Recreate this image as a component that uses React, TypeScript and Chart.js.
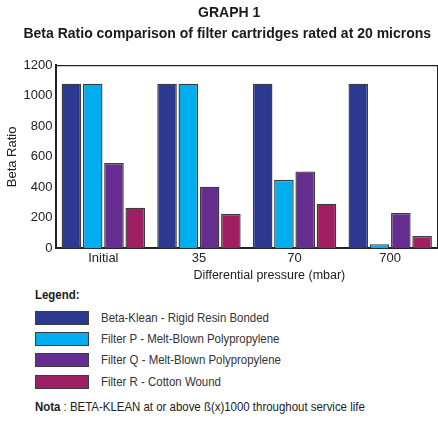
import React, { useEffect, useRef } from 'react';
import { Chart, registerables } from 'chart.js';

Chart.register(...registerables);

const titleLines = ['GRAPH 1', 'Beta Ratio comparison of filter cartridges rated at 20 microns'];
const categories = ['Initial', '35', '70', '700'];
const seriesNames = [
  'Beta-Klean - Rigid Resin Bonded',
  'Filter P - Melt-Blown Polypropylene',
  'Filter Q - Melt-Blown Polypropylene',
  'Filter R - Cotton Wound',
];
const betaKlean = [1080, 1080, 1080, 1080];
const filterP = [1080, 1080, 450, 28];
const filterQ = [560, 405, 505, 232];
const filterR = [267, 227, 293, 81];
const yTicks = [0, 200, 400, 600, 800, 1000, 1200];
const seriesColors = ['#2b3990', '#00aeef', '#662d91', '#9e1f63'];
const yTitle = 'Beta Ratio';
const xTitle = 'Differential pressure (mbar)';

const FONT = "'Liberation Sans', Arial, sans-serif";
const EDGE = '#3c3c3c';

export default function App() {
  const ref = useRef<HTMLCanvasElement | null>(null);

  useEffect(() => {
    if (!ref.current) return;
    const values = [betaKlean, filterP, filterQ, filterR];
    const chart = new Chart(ref.current, {
      type: 'bar',
      data: {
        labels: categories,
        datasets: values.map((v, i) => ({
          label: seriesNames[i],
          data: v,
          backgroundColor: seriesColors[i],
          borderColor: EDGE,
          borderWidth: 1.4,
          barPercentage: 0.92,
          categoryPercentage: 0.89,
        })),
      },
      options: {
        animation: false,
        responsive: true,
        maintainAspectRatio: false,
        layout: { padding: { left: 1, right: 0, top: 0, bottom: 0 } },
        plugins: {
          legend: { display: false },
          tooltip: { enabled: false },
          title: {
            display: true,
            text: ['     ' + titleLines[0], '    ' + titleLines[1]],
            color: '#1a1a1a',
            font: { family: FONT, size: 14, weight: 'bold', lineHeight: 1.55 },
            padding: { top: 2, bottom: 20 },
          },
        },
        scales: {
          x: {
            grid: { display: false, drawTicks: false },
            border: { display: true, color: '#222', width: 2 },
            ticks: { color: '#222', font: { family: FONT, size: 13 }, padding: 2 },
            title: {
              display: true,
              text: '             ' + xTitle,
              color: '#222',
              font: { family: FONT, size: 12.5 },
              padding: { top: 0, bottom: 2 },
            },
          },
          xTop: {
            type: 'category',
            position: 'top',
            grid: { display: false, drawTicks: false },
            border: { display: true, color: '#222', width: 1.3 },
            ticks: { display: false },
          },
          y: {
            min: yTicks[0],
            max: yTicks[yTicks.length - 1],
            grid: { display: false, drawTicks: false },
            border: { display: true, color: '#222', width: 2 },
            ticks: {
              stepSize: yTicks[1] - yTicks[0],
              color: '#222',
              font: { family: FONT, size: 13 },
              padding: 3,
              callback: (v: any) => String(v),
            },
            title: {
              display: true,
              text: yTitle,
              color: '#222',
              font: { family: FONT, size: 13 },
              padding: { top: 4, bottom: 0 },
            },
          },
          yRight: {
            type: 'linear',
            position: 'right',
            grid: { display: false, drawTicks: false },
            border: { display: true, color: '#222', width: 1.3 },
            ticks: { display: false },
          },
        },
      },
    });
    return () => chart.destroy();
  }, []);

  const textStyle: React.CSSProperties = { fontFamily: FONT, fontSize: 13, color: '#333' };
  const squeeze: React.CSSProperties = { transform: 'scaleX(0.88)', transformOrigin: 'left center' };

  return (
    <div style={{ position: 'absolute', left: 0, top: 0, width: 438, height: 428, background: '#fff', overflow: 'hidden' }}>
      <div style={{ position: 'absolute', left: 0, top: 0, width: 438, height: 285 }}>
        <canvas ref={ref} />
      </div>
      <div style={{ ...textStyle, ...squeeze, position: 'absolute', left: 35, top: 287, fontWeight: 'bold', color: '#1a1a1a', lineHeight: '16px', whiteSpace: 'nowrap' }}>
        Legend:
      </div>
      {seriesNames.map((name, i) => (
        <div key={name} style={{ position: 'absolute', left: 35, top: 311 + i * 21.2, height: 14, display: 'flex', alignItems: 'center' }}>
          <div style={{ width: 52, height: 12, background: seriesColors[i], border: `1px solid ${EDGE}`, flex: 'none' }} />
          <div style={{ ...textStyle, ...squeeze, marginLeft: 12, lineHeight: '14px', whiteSpace: 'nowrap' }}>{name}</div>
        </div>
      ))}
      <div style={{ ...textStyle, ...squeeze, position: 'absolute', left: 35, top: 399, lineHeight: '16px', whiteSpace: 'nowrap', color: '#222' }}>
        <b>Nota</b> : BETA-KLEAN at or above ß(x)1000 throughout service life
      </div>
    </div>
  );
}
